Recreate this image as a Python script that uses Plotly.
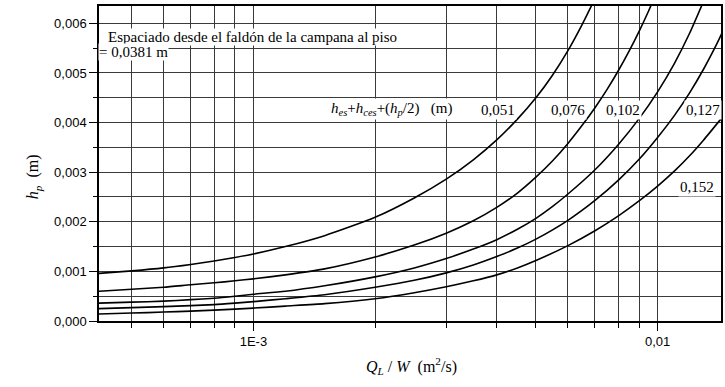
import math
import plotly.graph_objects as go

# ---- data ----
q_c1 = [4.15e-4, 5e-4, 6e-4, 7e-4, 8e-4, 9e-4, 1e-3, 1.2e-3, 1.5e-3, 2e-3, 2.5e-3, 3e-3,
        3.5e-3, 4e-3, 4.5e-3, 5e-3, 5.5e-3, 6e-3, 6.5e-3, 7e-3]
h_c1 = [0.00096, 0.00101, 0.00107, 0.00114, 0.00121, 0.00128, 0.00135, 0.00150, 0.00172,
        0.00209, 0.00248, 0.00286, 0.00325, 0.00365, 0.00407, 0.00450, 0.00496, 0.00545,
        0.00597, 0.00650]

q_c2 = [4.15e-4, 5e-4, 6e-4, 7e-4, 8e-4, 9e-4, 1e-3, 1.2e-3, 1.5e-3, 2e-3, 2.5e-3, 3e-3,
        3.5e-3, 4e-3, 4.5e-3, 5e-3, 5.5e-3, 6e-3, 6.5e-3, 7e-3, 7.5e-3, 8e-3, 8.5e-3, 9e-3,
        9.5e-3, 1e-2]
h_c2 = [0.00060, 0.00064, 0.00068, 0.00073, 0.00077, 0.00081, 0.00085, 0.00093, 0.00105,
        0.00129, 0.00153, 0.00177, 0.00202, 0.00229, 0.00258, 0.00290, 0.00323, 0.00358,
        0.00394, 0.00430, 0.00467, 0.00505, 0.00544, 0.00584, 0.00625, 0.00667]

q_c3 = [4.15e-4, 5e-4, 6e-4, 7e-4, 8e-4, 9e-4, 1e-3, 1.2e-3, 1.5e-3, 2e-3, 2.5e-3, 3e-3,
        3.5e-3, 4e-3, 4.5e-3, 5e-3, 5.5e-3, 6e-3, 7e-3, 8e-3, 9e-3, 1e-2, 1.1e-2, 1.2e-2,
        1.3e-2]
h_c3 = [0.00036, 0.00038, 0.00040, 0.00043, 0.00046, 0.00050, 0.00054, 0.00060, 0.00071,
        0.00089, 0.00107, 0.00126, 0.00145, 0.00164, 0.00185, 0.00207, 0.00231, 0.00256,
        0.00305, 0.00356, 0.00408, 0.00462, 0.00519, 0.00580, 0.00645]

q_c4 = [4.15e-4, 5e-4, 6e-4, 7e-4, 8e-4, 9e-4, 1e-3, 1.2e-3, 1.5e-3, 2e-3, 2.5e-3, 3e-3,
        3.5e-3, 4e-3, 4.5e-3, 5e-3, 6e-3, 7e-3, 8e-3, 9e-3, 1e-2, 1.1e-2, 1.2e-2, 1.3e-2,
        1.4e-2, 1.45e-2]
h_c4 = [0.00025, 0.00027, 0.00029, 0.00031, 0.00033, 0.00036, 0.00039, 0.00045, 0.00053,
        0.00068, 0.00082, 0.00097, 0.00113, 0.00130, 0.00147, 0.00165, 0.00203, 0.00243,
        0.00284, 0.00326, 0.00370, 0.00414, 0.00460, 0.00508, 0.00558, 0.00584]

q_c5 = [4.15e-4, 5e-4, 6e-4, 7e-4, 8e-4, 9e-4, 1e-3, 1.2e-3, 1.5e-3, 2e-3, 2.5e-3, 3e-3,
        3.5e-3, 4e-3, 4.5e-3, 5e-3, 6e-3, 7e-3, 8e-3, 9e-3, 1e-2, 1.1e-2, 1.2e-2, 1.3e-2,
        1.45e-2]
h_c5 = [0.00014, 0.00016, 0.00018, 0.00020, 0.00022, 0.00024, 0.00026, 0.00030, 0.00035,
        0.00045, 0.00057, 0.00069, 0.00081, 0.00093, 0.00107, 0.00122, 0.00152, 0.00182,
        0.00212, 0.00242, 0.00272, 0.00302, 0.00333, 0.00365, 0.00412]

curve_labels = ["0,051", "0,076", "0,102", "0,127", "0,152"]
label_q = [4.04e-3, 6.0e-3, 8.2e-3, 1.295e-2, 1.25e-2]
label_h = [0.00425, 0.00425, 0.00425, 0.00425, 0.00270]

y_ticks = [0.000, 0.001, 0.002, 0.003, 0.004, 0.005, 0.006]
y_ticktext = ["0,000", "0,001", "0,002", "0,003", "0,004", "0,005", "0,006"]
y_minor = [0.0005, 0.0015, 0.0025, 0.0035, 0.0045, 0.0055]
x_ticks = [1e-3, 1e-2]
x_ticktext = ["1E-3", "0,01"]
x_minor = [5e-4, 6e-4, 7e-4, 8e-4, 9e-4, 2e-3, 3e-3, 4e-3, 5e-3, 6e-3, 7e-3, 8e-3, 9e-3]

SERIF = "Liberation Serif, Times New Roman, serif"
SANS = "Liberation Sans, Arial, sans-serif"
GRID = "#3a3a3a"

fig = go.Figure()
for q, h in [(q_c1, h_c1), (q_c2, h_c2), (q_c3, h_c3), (q_c4, h_c4), (q_c5, h_c5)]:
    fig.add_trace(go.Scatter(x=q, y=h, mode="lines",
                             line=dict(color="black", width=1.6, shape="spline", smoothing=0.6),
                             showlegend=False, hoverinfo="skip"))

annotations = []
for t, q, h in zip(curve_labels, label_q, label_h):
    annotations.append(dict(x=math.log10(q), y=h, xref="x", yref="y", text=t,
                            xanchor="center", yanchor="middle",
                            showarrow=False, bgcolor="white", borderpad=1,
                            font=dict(family=SERIF, size=15, color="black")))

nb = "\u00a0"
annotations.append(dict(
    x=math.log10(2.19e-3), y=0.00427, xref="x", yref="y",
    xanchor="center", yanchor="middle",
    text=("<i>h</i><sub><i>es</i></sub>+<i>h</i><sub><i>ces</i></sub>+(<i>h</i><sub><i>p</i></sub>/2)"
          + nb * 3 + "(m)"),
    showarrow=False, bgcolor="white", borderpad=1,
    font=dict(family=SERIF, size=15, color="black")))

annotations.append(dict(
    x=(107 - 99) / 624, y=(321 - 37) / 315, xref="paper", yref="paper",
    xanchor="left", yanchor="middle", showarrow=False, bgcolor="white", borderpad=0,
    text="Espaciado desde el faldón de la campana al piso",
    font=dict(family=SERIF, size=15, color="black")))
annotations.append(dict(
    x=(98 - 99) / 624, y=(321 - 52) / 315, xref="paper", yref="paper",
    xanchor="left", yanchor="middle", showarrow=False, bgcolor="white", borderpad=0,
    text="= 0,0381 m",
    font=dict(family=SERIF, size=15, color="black")))

# axis titles
annotations.append(dict(
    x=(413 - 99) / 624, y=(321 - 366) / 315, xref="paper", yref="paper",
    xanchor="center", yanchor="middle",
    showarrow=False, text="<i>Q</i><sub><i>L</i></sub>" + nb + "/" + nb + "<i>W</i>" + nb * 2 + "(m<sup>2</sup>/s)",
    font=dict(family=SERIF, size=16, color="black")))
annotations.append(dict(
    x=(33 - 99) / 624, y=(321 - 177) / 315, xref="paper", yref="paper",
    xanchor="center", yanchor="middle",
    showarrow=False, textangle=-90, text="<i>h</i><sub><i>p</i></sub>" + nb * 2 + "(m)",
    font=dict(family=SERIF, size=16, color="black")))

fig.update_layout(
    width=725, height=387,
    margin=dict(l=99, r=2, t=6, b=66),
    paper_bgcolor="white", plot_bgcolor="white",
    annotations=annotations,
    showlegend=False,
)
fig.update_xaxes(
    type="log", range=[math.log10(4.15e-4), math.log10(1.435e-2)],
    tickmode="array", tickvals=x_ticks, ticktext=x_ticktext,
    ticks="outside", ticklen=8, tickwidth=1, tickcolor="black",
    tickfont=dict(family=SANS, size=13, color="black"),
    showgrid=True, gridcolor=GRID, gridwidth=1,
    minor=dict(tickmode="array", tickvals=x_minor, ticks="outside", ticklen=5,
               tickwidth=1, tickcolor="black", showgrid=True, gridcolor=GRID, gridwidth=1),
    showline=True, linecolor="black", linewidth=1.5, mirror=True, zeroline=False,
)
fig.update_yaxes(
    range=[0, 0.00635],
    tickmode="array", tickvals=y_ticks, ticktext=y_ticktext,
    ticks="outside", ticklen=8, tickwidth=1, tickcolor="black",
    tickfont=dict(family=SANS, size=13, color="black"),
    showgrid=True, gridcolor=GRID, gridwidth=1,
    minor=dict(tickmode="array", tickvals=y_minor, ticks="outside", ticklen=4,
               tickwidth=1, tickcolor="black", showgrid=True, gridcolor=GRID, gridwidth=1),
    showline=True, linecolor="black", linewidth=1.5, mirror=True, zeroline=False,
)

fig.write_html("out.html")
